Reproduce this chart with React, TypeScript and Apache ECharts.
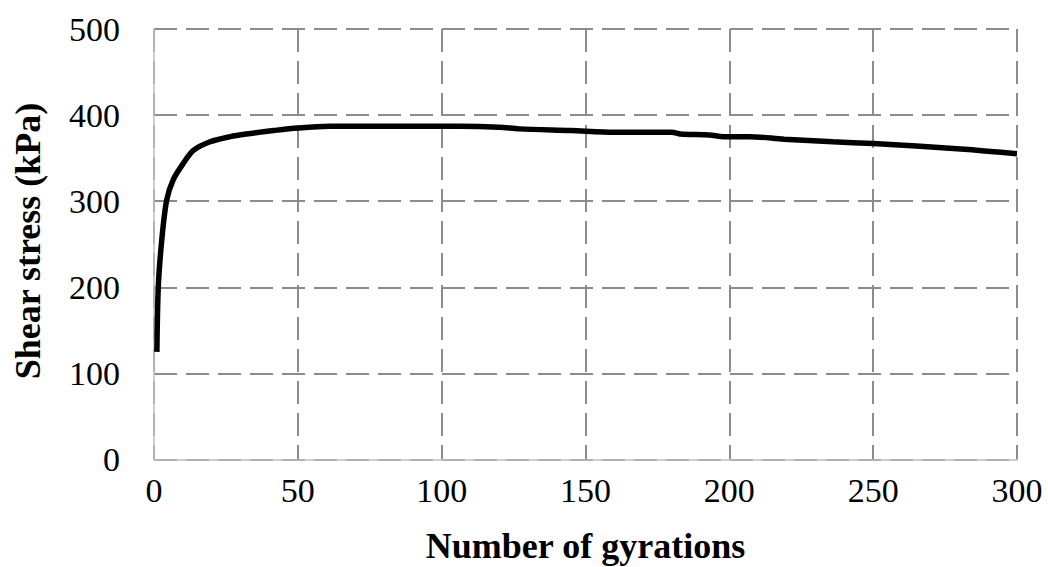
import React, { useEffect, useRef } from "react";
import * as echarts from "echarts";

const gyrations = [1, 1.5, 2.7, 4.4, 6.7, 10.2, 13.7, 19.5, 26.5, 32, 41.5, 50, 61, 80, 106, 120, 127, 145, 160, 180, 183, 193, 198, 207, 219, 236, 250, 265, 283, 300];
const shearStress = [125, 201, 255, 301, 325, 344, 359, 369, 375, 378, 382, 385, 387, 387, 387, 386, 384, 382, 380, 380, 378, 377, 375, 375, 372, 369, 367, 364, 360, 355];

const xTicks = [0, 50, 100, 150, 200, 250, 300];
const yTicks = [0, 100, 200, 300, 400, 500];

const FONT = "'Liberation Serif', 'Times New Roman', serif";

export default function App() {
  const ref = useRef<HTMLDivElement>(null);
  useEffect(() => {
    if (!ref.current) return;
    const chart = echarts.init(ref.current, undefined, { renderer: "svg" });
    const data = gyrations.map((g, i) => [g, shearStress[i]]);
    chart.setOption({
      animation: false,
      backgroundColor: "#ffffff",
      grid: { left: 154, right: 31, top: 29, bottom: 107.5, containLabel: false, outerBoundsMode: "none" },
      xAxis: {
        type: "value",
        min: xTicks[0],
        max: xTicks[xTicks.length - 1],
        interval: 50,
        name: "Number of gyrations",
        nameLocation: "middle",
        nameGap: 68,
        nameTextStyle: { fontFamily: FONT, fontSize: 36, fontWeight: "bold", color: "#000" },
        axisLine: { show: true, lineStyle: { color: "#bfbfbf", width: 1.5 } },
        axisTick: { show: false },
        axisLabel: { fontFamily: FONT, fontSize: 34, color: "#000", margin: 14 },
        splitLine: { show: true, lineStyle: { color: "#8c8c8c", width: 2, type: [23, 9] } },
      },
      yAxis: {
        type: "value",
        min: yTicks[0],
        max: yTicks[yTicks.length - 1],
        interval: 100,
        axisLine: { show: true, lineStyle: { color: "#bfbfbf", width: 1.5 } },
        axisTick: { show: false },
        axisLabel: { fontFamily: FONT, fontSize: 34, color: "#000", margin: 34 },
        splitLine: { show: true, lineStyle: { color: "#8c8c8c", width: 2, type: [23, 9] } },
      },
      graphic: [
        {
          type: "text",
          x: 28,
          y: 241,
          rotation: Math.PI / 2,
          style: {
            text: "Shear stress (kPa)",
            fontFamily: FONT,
            fontSize: 36,
            fontWeight: "bold",
            fill: "#000",
            align: "center",
            verticalAlign: "middle",
          },
        },
      ],
      series: [
        {
          type: "line",
          data,
          showSymbol: false,
          smooth: 0.3,
          lineStyle: { color: "#000", width: 5.5 },
        },
      ],
    });
    return () => chart.dispose();
  }, []);
  return (
    <div
      ref={ref}
      style={{ position: "absolute", left: 0, top: 0, width: 1048, height: 567 }}
    />
  );
}
